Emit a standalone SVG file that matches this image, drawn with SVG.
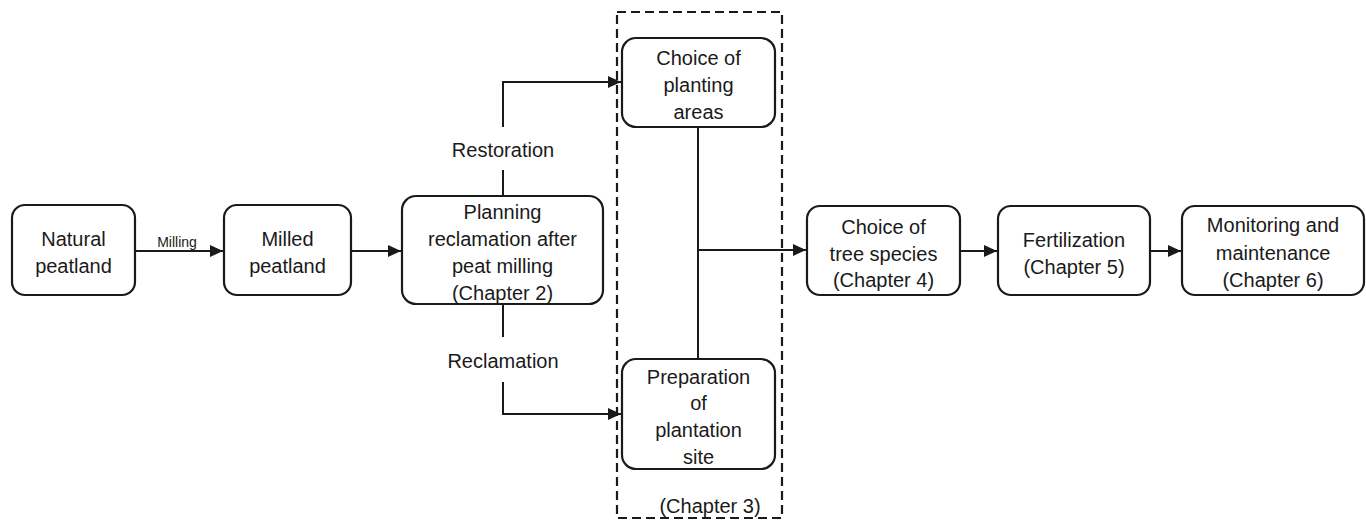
<svg xmlns="http://www.w3.org/2000/svg" width="1366" height="520" viewBox="0 0 1366 520">
<defs>
<style>
.box{fill:#fff;stroke:#1a1a1a;stroke-width:2.2}
.t{font-family:"Liberation Sans",Arial,sans-serif;font-size:20px;fill:#1a1a1a;text-anchor:middle}
.s{font-family:"Liberation Sans",Arial,sans-serif;font-size:14px;fill:#1a1a1a;text-anchor:middle}
.c{fill:none;stroke:#1a1a1a;stroke-width:2}
.dash{fill:none;stroke:#1a1a1a;stroke-width:2.2;stroke-dasharray:9,5}
</style>
<marker id="ah" viewBox="0 0 13 12" refX="13" refY="6" markerWidth="13" markerHeight="12" markerUnits="userSpaceOnUse" orient="auto">
<path d="M0,0 L13,6 L0,12 z" fill="#1a1a1a"/>
</marker>
</defs>
<rect width="1366" height="520" fill="#fff"/>
<g id="group-chapter3">
<rect class="dash" x="617" y="12" width="165" height="506"/>
<text class="t" x="710" y="513">(Chapter 3)</text>
</g>
<g id="connectors">
<line class="c" x1="135" y1="251" x2="223" y2="251" marker-end="url(#ah)"/>
<text class="s" x="177" y="247">Milling</text>
<line class="c" x1="351" y1="251" x2="401" y2="251" marker-end="url(#ah)"/>
<line class="c" x1="503" y1="196" x2="503" y2="170"/>
<polyline class="c" points="503,127 503,82 621,82" marker-end="url(#ah)"/>
<text class="t" x="503" y="157">Restoration</text>
<line class="c" x1="503" y1="304" x2="503" y2="337"/>
<polyline class="c" points="503,382 503,414 621,414" marker-end="url(#ah)"/>
<text class="t" x="503" y="368">Reclamation</text>
<line class="c" x1="698" y1="127" x2="698" y2="359"/>
<line class="c" x1="698" y1="250" x2="806" y2="250" marker-end="url(#ah)"/>
<line class="c" x1="960" y1="251" x2="997" y2="251" marker-end="url(#ah)"/>
<line class="c" x1="1150" y1="251" x2="1181" y2="251" marker-end="url(#ah)"/>
</g>
<g id="natural-peatland">
<rect class="box" x="12" y="205" width="123" height="90" rx="13"/>
<text class="t" x="73.5" y="246">Natural</text>
<text class="t" x="73.5" y="273">peatland</text>
</g>
<g id="milled-peatland">
<rect class="box" x="224" y="205" width="127" height="90" rx="13"/>
<text class="t" x="287.5" y="246">Milled</text>
<text class="t" x="287.5" y="273">peatland</text>
</g>
<g id="planning">
<rect class="box" x="402" y="196" width="201" height="108" rx="14"/>
<text class="t" x="502.5" y="219">Planning</text>
<text class="t" x="502.5" y="246">reclamation after</text>
<text class="t" x="502.5" y="273">peat milling</text>
<text class="t" x="502.5" y="300">(Chapter 2)</text>
</g>
<g id="choice-planting-areas">
<rect class="box" x="622" y="38" width="153" height="89" rx="14"/>
<text class="t" x="698.5" y="65">Choice of</text>
<text class="t" x="698.5" y="92">planting</text>
<text class="t" x="698.5" y="119">areas</text>
</g>
<g id="preparation">
<rect class="box" x="622" y="359" width="153" height="110" rx="14"/>
<text class="t" x="698.5" y="384">Preparation</text>
<text class="t" x="698.5" y="410">of</text>
<text class="t" x="698.5" y="437">plantation</text>
<text class="t" x="698.5" y="464">site</text>
</g>
<g id="tree-species">
<rect class="box" x="807" y="206" width="153" height="89" rx="13"/>
<text class="t" x="883.5" y="234">Choice of</text>
<text class="t" x="883.5" y="261">tree species</text>
<text class="t" x="883.5" y="287">(Chapter 4)</text>
</g>
<g id="fertilization">
<rect class="box" x="998" y="206" width="152" height="89" rx="13"/>
<text class="t" x="1074" y="247">Fertilization</text>
<text class="t" x="1074" y="274">(Chapter 5)</text>
</g>
<g id="monitoring">
<rect class="box" x="1182" y="206" width="182" height="89" rx="13"/>
<text class="t" x="1273" y="232">Monitoring and</text>
<text class="t" x="1273" y="260">maintenance</text>
<text class="t" x="1273" y="287">(Chapter 6)</text>
</g>
</svg>
